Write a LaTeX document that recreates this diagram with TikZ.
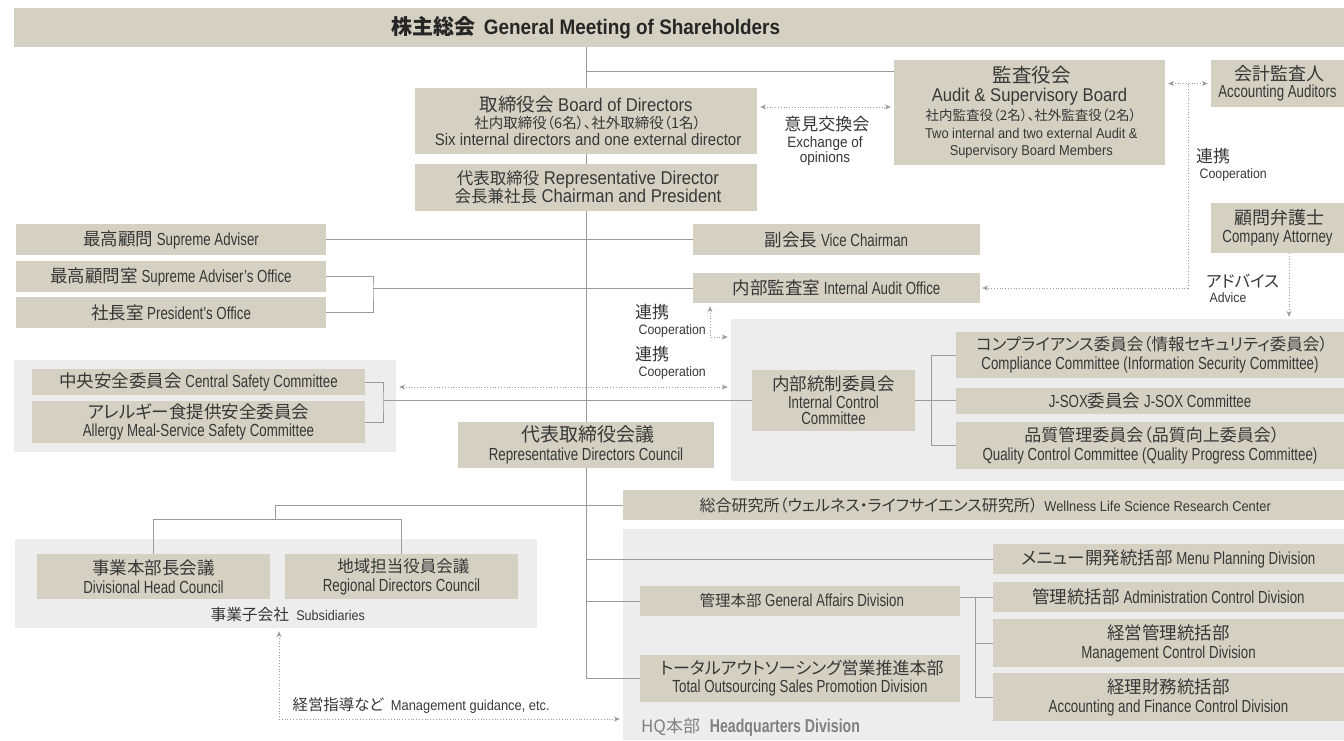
\documentclass[tikz,border=0pt]{standalone}
\usepackage{fontspec}
\setmainfont{Liberation Sans}[FakeStretch=0.76]
\newfontfamily\widefam{Liberation Sans}[FakeStretch=0.9]
\newfontfamily\jp{Noto Sans CJK JP}[RawFeature=+palt]
\usetikzlibrary{arrows.meta}
\definecolor{boxfill}{RGB}{212,209,195}
\definecolor{grpfill}{RGB}{237,237,237}
\definecolor{linegray}{RGB}{155,155,155}
\definecolor{textgray}{RGB}{55,55,55}
\newcommand{\mainsz}{\fontsize{17.5}{19}\selectfont}
\newcommand{\fs}[1]{\fontsize{#1}{#1}\selectfont}

\begin{document}
\begin{tikzpicture}[x=1pt, y=-1pt,
    box/.style={fill=boxfill, text=textgray, inner sep=0pt, align=center, font=\mainsz},
    grp/.style={fill=grpfill, inner sep=0pt},
    note/.style={text=textgray, inner sep=0pt, align=left, font=\mainsz},
    conn/.style={draw=linegray, line width=0.9pt},
    dotone/.style={draw=linegray, line width=0.9pt, dash pattern=on 0.9pt off 1.9pt,
        -{Stealth[length=6pt,width=5pt]}, shorten >=2pt},
    dotboth/.style={dotone, {Stealth[length=6pt,width=5pt]}-{Stealth[length=6pt,width=5pt]}, shorten <=3pt, shorten >=3pt}]
    \useasboundingbox (0,0) rectangle (1344,740);

    % Groups
    \node[grp, minimum width=382, minimum height=92] (safgrp) at (205,406) {};
    \node[grp, minimum width=613, minimum height=162] (icgrp) at (1037.5,400) {};
    \node[grp, minimum width=522, minimum height=89] (subsgrp) at (276,583.5) {};
    \node[grp, minimum width=721, minimum height=211] (hqgrp) at (983.5,634.5) {};

    % Nodes
    \node[box, minimum width=1330, minimum height=39] (gmbar) at (679,27.5) {};
    \node[inner sep=0pt, text=black!85, font=\widefam\bfseries\fs{21}] (gm) at (586,28) {{\jp 株主総会}\hspace{8pt}General Meeting of Shareholders};
    \node[box, minimum width=342, minimum height=66, font=\widefam\fontsize{18.5}{17}\selectfont] (bod) at (586,121) {{\jp 取締役会} Board of Directors\\{\jp\fs{14.5} 社内取締役（6名）、社外取締役（1名）}\\{\fs{16.7} Six internal directors and one external director}};
    \node[box, minimum width=342, minimum height=47, font=\widefam\fontsize{18.5}{18}\selectfont] (rep) at (586,187.5) {{\jp\fs{16.5} 代表取締役} Representative Director\\{\jp\fs{16.5} 会長兼社長} Chairman and President};
    \node[box, minimum width=271, minimum height=105, font=\widefam\fontsize{18.5}{18}\selectfont] (asb) at (1029.5,112.5) {{\jp\fs{19.5} 監査役会}\\[1pt]Audit \& Supervisory Board\\[1pt]{\jp\fs{13.5} 社内監査役（2名）、社外監査役（2名）}\\{\fs{14.3} Two internal and two external Audit \&}\\[-1pt]{\fs{14.3} Supervisory Board Members}};
    \node[box, minimum width=133, minimum height=47, font=\fontsize{17.5}{17}\selectfont] (acc) at (1277.5,83.5) {{\jp\fs{18} 会計監査人}\\Accounting Auditors};
    \node[box, minimum width=133, minimum height=50, font=\fontsize{17.5}{18}\selectfont] (atty) at (1277.5,228) {{\jp\fs{18} 顧問弁護士}\\Company Attorney};
    \node[box, minimum width=310, minimum height=31] (supadv) at (171,239.5) {{\jp 最高顧問} Supreme Adviser};
    \node[box, minimum width=287, minimum height=31] (vice) at (836.5,239.5) {{\jp 副会長} Vice Chairman};
    \node[box, minimum width=310, minimum height=31] (supoff) at (171,276.5) {{\jp 最高顧問室} Supreme Adviser's Office};
    \node[box, minimum width=310, minimum height=31] (presoff) at (171,312.5) {{\jp 社長室} President's Office};
    \node[box, minimum width=287, minimum height=30] (iao) at (836.5,288) {{\jp 内部監査室} Internal Audit Office};
    \node[box, minimum width=333, minimum height=26] (central) at (198.5,382) {{\jp 中央安全委員会} Central Safety Committee};
    \node[box, minimum width=333, minimum height=42, font=\fontsize{17.5}{18}\selectfont] (allergy) at (198.5,422) {{\jp アレルギー食提供安全委員会}\\Allergy Meal-Service Safety Committee};
    \node[box, minimum width=163, minimum height=61, font=\fontsize{17.5}{16}\selectfont] (icc) at (833.5,400.5) {{\jp 内部統制委員会}\\[2pt]Internal Control\\Committee};
    \node[box, minimum width=388, minimum height=46] (comp) at (1150,355) {{\jp\fs{16.5} コンプライアンス委員会（情報セキュリティ委員会）}\\Compliance Committee (Information Security Committee)};
    \node[box, minimum width=388, minimum height=26] (jsox) at (1150,400.5) {J-SOX{\jp 委員会} J-SOX Committee};
    \node[box, minimum width=388, minimum height=47] (qc) at (1150,445.5) {{\jp\fs{17} 品質管理委員会（品質向上委員会）}\\Quality Control Committee (Quality Progress Committee)};
    \node[box, minimum width=256, minimum height=46] (rdc) at (586,445) {{\jp\fs{19} 代表取締役会議}\\Representative Directors Council};
    \node[box, minimum width=721, minimum height=30] (wlsrc) at (983.5,505) {{\jp\fs{16} 総合研究所（ウェルネス・ライフサイエンス研究所）}\hspace{3pt}{\widefam\fs{14.3} Wellness Life Science Research Center}};
    \node[box, minimum width=351, minimum height=30] (menu) at (1168.5,559) {{\jp メニュー開発統括部} Menu Planning Division};
    \node[box, minimum width=320, minimum height=30] (ga) at (800,601) {{\jp\fs{15.5} 管理本部} General Affairs Division};
    \node[box, minimum width=351, minimum height=30] (admin) at (1168.5,597) {{\jp 管理統括部} Administration Control Division};
    \node[box, minimum width=351, minimum height=48] (mgmt) at (1168.5,643) {{\jp 経営管理統括部}\\Management Control Division};
    \node[box, minimum width=351, minimum height=48] (acct) at (1168.5,697) {{\jp 経理財務統括部}\\Accounting and Finance Control Division};
    \node[box, minimum width=320, minimum height=47, font=\fontsize{17.5}{18}\selectfont] (total) at (800,678.5) {{\jp\fs{17} トータルアウトソーシング営業推進本部}\\Total Outsourcing Sales Promotion Division};
    \node[box, minimum width=233, minimum height=45] (divh) at (153.5,576.5) {{\jp 事業本部長会議}\\Divisional Head Council};
    \node[box, minimum width=233, minimum height=45] (regd) at (401.5,576.5) {{\jp\fs{16.5} 地域担当役員会議}\\Regional Directors Council};

    % Labels
    \node[note, align=center, font=\fontsize{15}{13}\selectfont] (xchg) at (825,141) {{\jp\fs{17} 意見交換会}\\[4pt]{\widefam Exchange of}\\{\widefam opinions}};
    \node[note, anchor=west, font=\fontsize{17}{16}\selectfont] (coop1) at (1196,165) {{\jp 連携}\\{\widefam\fs{13.7} Cooperation}};
    \node[note, anchor=west, font=\fontsize{17}{16}\selectfont] (coop2) at (635,321) {{\jp 連携}\\{\widefam\fs{13.7} Cooperation}};
    \node[note, anchor=west, font=\fontsize{17}{16}\selectfont] (coop3) at (635,363) {{\jp 連携}\\{\widefam\fs{13.7} Cooperation}};
    \node[note, anchor=west, font=\fontsize{16.5}{15}\selectfont] (advice) at (1206,288) {{\jp アドバイス}\\{\widefam\fs{13.6} Advice}};
    \node[note, anchor=west] (guide) at (289,705) {{\jp\fs{15.4} 経営指導など} {\widefam\fs{14.3} Management guidance, etc.}};
    \node[note] (subs) at (286,615) {{\jp\fs{15.7} 事業子会社} {\widefam\fs{14} Subsidiaries}};
    \node[note, anchor=west, text=black!50] (hq) at (637,727) {{\jp\fs{17} HQ本部}\hspace{6pt}{\bfseries\fs{18.6} Headquarters Division}};

    % Edges
    \coordinate (j1) at ([yshift=-12pt]asb.north west);
    \draw[conn] (gm |- gmbar.south) -- (bod.north);
    \draw[conn] (j1) -- (j1 -| gm);
    \draw[conn] (bod.south) -- (rep.north);
    \draw[conn] (rep.south) -- (rdc.north);
    \draw[conn] (supadv.east) -- (vice.west);
    \coordinate (b1) at (373,288);
    \draw[conn] (supoff.east) -| (b1) |- (presoff.east);
    \draw[conn] (b1) -- (iao.west);
    \coordinate (b2) at (383,400.5);
    \draw[conn] (central.east) -| (b2) |- (allergy.east);
    \draw[conn] (b2) -- (icc.west);
    \coordinate (b3) at (931,400.5);
    \draw[conn] (icc.east) -- (b3);
    \draw[conn] (comp.west) -| (b3) |- (qc.west);
    \draw[conn] (b3) -- (jsox.west);
    \draw[conn] (rdc.south) |- (total.west);
    \draw[conn] (rdc.south |- wlsrc.west) -- (wlsrc.west);
    \draw[conn] (rdc.south |- menu.west) -- (menu.west);
    \draw[conn] (rdc.south |- ga.west) -- (ga.west);
    \coordinate (s1) at (275,519);
    \draw[conn] (rdc.south |- wlsrc.west) -| (s1);
    \draw[conn] (divh.north) |- (s1) -| (regd.north);
    \coordinate (b4) at (975,597);
    \draw[conn] ([yshift=4pt]ga.east) -- (b4);
    \draw[conn] (admin.west) -| (b4) |- (acct.west);
    \draw[conn] (b4 |- mgmt.west) -- (mgmt.west);

    % Dotted links
    \draw[dotboth] ([yshift=14pt]bod.east) -- ([yshift=5.5pt]asb.west);
    \draw[dotboth] ([yshift=29pt]asb.east) -- (acc.west);
    \coordinate (c1) at (1188,83.5);
    \draw[dotone] (c1) |- (iao.east);
    \coordinate (adv) at ([xshift=11.5pt]atty.south);
    \draw[dotone] (adv) -- (adv |- icgrp.north);
    \coordinate (c2) at ([xshift=-126.5pt]iao.south);
    \draw[dotboth] (c2) |- ([yshift=63pt]icgrp.west);
    \draw[dotboth] ([yshift=19pt]safgrp.east) -- ([yshift=13pt]icgrp.west);
    \coordinate (c3) at ([xshift=3pt]subsgrp.south);
    \draw[dotboth] (c3) |- ([yshift=-84.5pt]hqgrp.west);
\end{tikzpicture}
\end{document}
